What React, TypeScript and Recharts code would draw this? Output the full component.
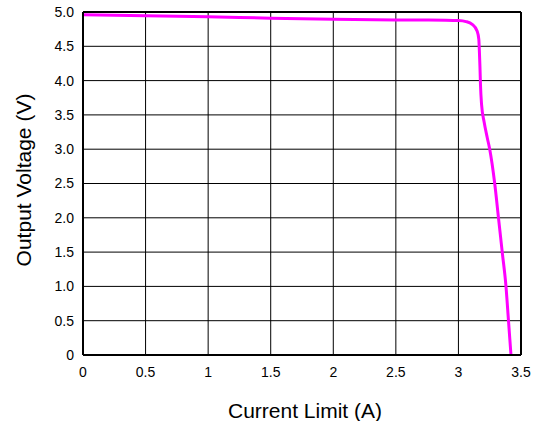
import React from 'react';
import { LineChart, Line, XAxis, YAxis, CartesianGrid, ReferenceLine } from 'recharts';

const currents = [0, 0.5, 1, 1.5, 2, 2.5, 2.9, 3.0, 3.06, 3.11, 3.15, 3.163, 3.168, 3.172, 3.176, 3.185, 3.205, 3.23, 3.25, 3.29, 3.32, 3.35, 3.38, 3.4, 3.42];
const voltages = [4.96, 4.945, 4.93, 4.91, 4.895, 4.885, 4.88, 4.875, 4.86, 4.82, 4.72, 4.6, 4.4, 4.2, 3.95, 3.65, 3.4, 3.17, 3.0, 2.5, 2.0, 1.5, 1.0, 0.5, 0];

const xTicks = [0, 0.5, 1, 1.5, 2, 2.5, 3, 3.5];
const yTicks = [0, 0.5, 1, 1.5, 2, 2.5, 3, 3.5, 4, 4.5, 5];

const data = currents.map((c, i) => ({ current: c, voltage: voltages[i] }));

const FONT = '"Liberation Sans", Arial, sans-serif';

export default function App() {
  return (
    <div style={{ position: 'absolute', left: 0, top: 0, width: 539, height: 421, background: '#fff' }}>
      <LineChart width={539} height={421} data={data} margin={{ top: 12, right: 18, bottom: 0, left: 0 }}>
        <CartesianGrid stroke="#000" strokeWidth={1} horizontalValues={yTicks} verticalValues={xTicks} />
        <XAxis
          type="number"
          dataKey="current"
          domain={[0, 3.5]}
          ticks={xTicks}
          height={66}
          tickLine={false}
          tickSize={0}
          tickMargin={12}
          axisLine={{ stroke: '#000', strokeWidth: 2 }}
          tick={{ fill: '#000', fontSize: 14, fontFamily: FONT }}
          label={{
            content: () => (
              <text x={305} y={410} textAnchor="middle" dominantBaseline="central" fill="#000" fontSize={21} fontFamily={FONT}>
                Current Limit (A)
              </text>
            ),
          }}
        />
        <YAxis
          type="number"
          domain={[0, 5]}
          ticks={yTicks}
          width={83}
          tickLine={false}
          tickSize={0}
          tickMargin={9}
          axisLine={{ stroke: '#000', strokeWidth: 2 }}
          tickFormatter={(v: number) => (v === 0 ? '0' : v.toFixed(1))}
          tick={{ fill: '#000', fontSize: 14, fontFamily: FONT }}
          label={{
            content: () => (
              <text x={23} y={180} transform="rotate(-90 23 180)" textAnchor="middle" dominantBaseline="central" fill="#000" fontSize={21} fontFamily={FONT}>
                Output Voltage (V)
              </text>
            ),
          }}
        />
        <ReferenceLine x={3.5} stroke="#000" strokeWidth={2} />
        <ReferenceLine y={5} stroke="#000" strokeWidth={2} />
        <Line
          type="monotone"
          dataKey="voltage"
          stroke="#ff00ff"
          strokeWidth={3}
          dot={false}
          isAnimationActive={false}
        />
      </LineChart>
    </div>
  );
}
